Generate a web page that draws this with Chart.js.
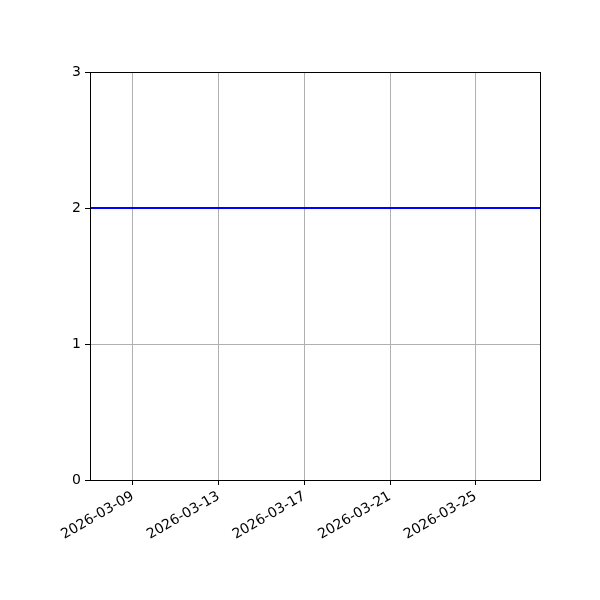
<!DOCTYPE html>
<html><head><meta charset="utf-8">
<script src="https://cdn.jsdelivr.net/npm/chart.js@4/dist/chart.umd.min.js"></script>
<style>html,body{margin:0;padding:0;background:#fff}#wrap{width:600px;height:600px}</style>
</head><body><div id="wrap"><canvas id="c" width="600" height="600"></canvas></div>
<script>
const startDate = '2026-03-07';
const endDate = '2026-03-28';
const dates = ['2026-03-07','2026-03-08','2026-03-09','2026-03-10','2026-03-11','2026-03-12','2026-03-13','2026-03-14','2026-03-15','2026-03-16','2026-03-17','2026-03-18','2026-03-19','2026-03-20','2026-03-21','2026-03-22','2026-03-23','2026-03-24','2026-03-25','2026-03-26','2026-03-27','2026-03-28'];
const values = [2,2,2,2,2,2,2,2,2,2,2,2,2,2,2,2,2,2,2,2,2,2];
const xTickLabels = ['2026-03-09','2026-03-13','2026-03-17','2026-03-21','2026-03-25'];
const yTicks = [0,1,2,3];

const DAY = 86400000;
const t0 = Date.parse(startDate + 'T00:00:00Z');
const dayIdx = s => (Date.parse(s + 'T00:00:00Z') - t0) / DAY;
const idxToDate = i => new Date(t0 + i*DAY).toISOString().slice(0,10);

const frame = {
  id:'frame',
  afterDraw(ch){
    const a = ch.chartArea, c = ch.ctx;
    c.save(); c.strokeStyle='#000'; c.lineWidth=1;
    c.strokeRect(Math.round(a.left)+0.5, Math.round(a.top)+0.5, Math.round(a.right-a.left), Math.round(a.bottom-a.top));
    c.restore();
  }
};
const font = {family:'DejaVu Sans', size:14};
new Chart(document.getElementById('c'), {
  type:'line',
  data:{datasets:[{
    data: dates.map((d,i)=>({x:dayIdx(d), y:values[i]})),
    borderColor:'#0000ff', borderWidth:2, pointRadius:0, fill:false, tension:0
  }]},
  options:{
    responsive:false, animation:false, devicePixelRatio:1,
    layout:{padding:{left:0, top:72, right:60, bottom:0}},
    plugins:{legend:{display:false}, tooltip:{enabled:false}},
    scales:{
      x:{type:'linear', min:dayIdx(startDate), max:dayIdx(endDate),
        afterBuildTicks(s){ s.ticks = xTickLabels.map(l=>({value:dayIdx(l)})); },
        afterFit(s){ s.height = 120; },
        ticks:{font, color:'#000', minRotation:30, maxRotation:30, autoSkip:false, padding:3,
          callback:v=>idxToDate(v)},
        grid:{color:'#b0b0b0', lineWidth:1, tickColor:'#000', tickLength:5},
        border:{display:false}
      },
      y:{type:'linear', min:0, max:3,
        afterBuildTicks(s){ s.ticks = yTicks.map(v=>({value:v})); },
        afterFit(s){ s.width = 90; },
        ticks:{font, color:'#000', padding:4, callback:v=>String(v)},
        grid:{color:'#b0b0b0', lineWidth:1, tickColor:'#000', tickLength:5},
        border:{display:false}
      }
    }
  },
  plugins:[frame]
});
</script></body></html>
